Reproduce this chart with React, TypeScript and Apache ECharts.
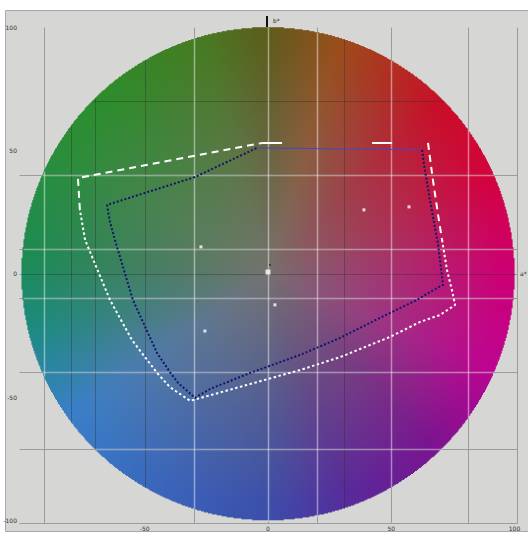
import React, { useEffect, useRef } from "react";
import * as echarts from "echarts";

// ---- axis extents (a*, b*) ----
const X_MIN = -101;
const X_MAX = 101;
const Y_MIN = -101;
const Y_MAX = 100;
const DISC_RADIUS = 100;

// ---- grid lines ----
const GRID_X_FULL = [-91, -30, 0, 20, 50, 81, 101];
const GRID_Y_FULL = [40, 10, 0, -10, -40, -71, -101];
const GRID_X_INNER_DARK = [-80, -70, -50, 31];
const GRID_Y_INNER_DARK = [70];
const GRID_X_BRIGHT = [-91, -30, 0, 20, 50, 81];
const GRID_Y_BRIGHT = [40, 10, -10, -40, -71];

// ---- tick labels ----
const X_TICK_VALUES = [-50, 0, 50, 100];
const X_TICK_LABELS = ["-50", "0", "50", "100"];
const Y_TICK_VALUES = [100, 50, 0, -50, -100];
const Y_TICK_LABELS = ["100", "50", "0", "-50", "-100"];
const X_AXIS_NAME = "a*";
const Y_AXIS_NAME = "b*";

// ---- gamut outline 1 (white) ----
const WHITE_DASHED_TOP: number[][] = [
  [-76.3, 25.9], [-77.1, 38.8], [-2.4, 53.0],
];
const WHITE_SPARSE_TOP: number[][] = [
  [-2.4, 53.0], [64.9, 53.0],
];
const WHITE_DASHED_RIGHT: number[][] = [
  [64.9, 53.0], [66.9, 38.0], [69.0, 23.8], [70.6, 13.7],
];
const WHITE_DOTTED: number[][] = [
  [70.6, 13.7], [72.6, 1.5], [74.6, -6.6], [75.9, -12.6],
  [69.8, -16.7], [61.7, -19.5], [49.5, -25.6], [37.3, -30.5], [29.2, -33.8],
  [13.0, -39.0], [-7.3, -44.7], [-21.5, -48.7], [-31.6, -51.5],
  [-39.8, -45.9], [-45.0, -40.2], [-55.2, -26.8], [-64.1, -10.6],
  [-74.2, 13.7], [-76.3, 25.9],
];

// ---- gamut outline 2 (navy) ----
const NAVY_TOP_SOLID: number[][] = [
  [-4.5, 51.0], [62.5, 50.2],
];
const NAVY_DOTTED: number[][] = [
  [62.5, 50.2], [63.3, 44.1], [65.7, 29.9], [69.0, 11.7], [71.0, -4.5],
  [65.7, -7.4], [60.4, -10.6], [45.4, -17.9], [29.2, -26.0], [13.0, -32.9],
  [-7.3, -40.2], [-23.5, -46.7], [-29.6, -50.3],
  [-36.5, -44.2], [-39.8, -39.8], [-45.0, -32.1], [-54.8, -10.6],
  [-62.1, 13.7], [-64.1, 21.0], [-65.3, 27.9], [-29.6, 39.2], [-4.5, 51.0],
];

// ---- measured points ----
const WHITE_POINTS: number[][] = [
  [-27.2, 10.9], [-25.6, -23.2], [2.8, -12.6], [38.9, 25.9], [57.2, 27.1],
];
const WHITE_POINT_CENTER: number[][] = [[0, 0.7]];
const DARK_POINTS: number[][] = [[0.8, 3.6]];

// ---- disc appearance (background image) ----
const RIM_ANGLES = [0, 17, 45, 65, 90, 112, 137, 160, 180, 205, 235, 257, 275, 300, 318, 345, 360];
const RIM_COLORS = [
  "#5e5c1c", "#9a4e1c", "#c81028", "#d2043c", "#cc0074", "#be0490", "#7a1490",
  "#582a9a", "#3c4eaa", "#3a64ba", "#3a80c8", "#1e8a80", "#1e8a52", "#2a8e3a",
  "#2e8c2c", "#487a22", "#5e5c1c",
];
const CENTER_COLOR = "#757270";

function hex(c: string): number[] {
  return [parseInt(c.slice(1, 3), 16), parseInt(c.slice(3, 5), 16), parseInt(c.slice(5, 7), 16)];
}

function makeDisc(): string {
  const N = 500;
  const cv = document.createElement("canvas");
  cv.width = N;
  cv.height = N;
  const ctx = cv.getContext("2d")!;
  const img = ctx.createImageData(N, N);
  const rim = RIM_COLORS.map(hex);
  const cen = hex(CENTER_COLOR);
  for (let j = 0; j < N; j++) {
    for (let i = 0; i < N; i++) {
      const dx = ((i + 0.5) / N) * 2 - 1;
      const dy = ((j + 0.5) / N) * 2 - 1;
      const r = Math.sqrt(dx * dx + dy * dy);
      const k = (j * N + i) * 4;
      if (r > 1) {
        img.data[k + 3] = 0;
        continue;
      }
      let ang = (Math.atan2(dx, -dy) * 180) / Math.PI;
      if (ang < 0) ang += 360;
      let s = 0;
      while (s < RIM_ANGLES.length - 2 && ang > RIM_ANGLES[s + 1]) s++;
      const t = (ang - RIM_ANGLES[s]) / (RIM_ANGLES[s + 1] - RIM_ANGLES[s]);
      const c0 = rim[s];
      const c1 = rim[s + 1];
      const f = Math.min(1, Math.pow(r, 0.9) * 1.05);
      for (let q = 0; q < 3; q++) {
        const rc = c0[q] + (c1[q] - c0[q]) * t;
        img.data[k + q] = Math.round(cen[q] + (rc - cen[q]) * f);
      }
      img.data[k + 3] = 255;
    }
  }
  ctx.putImageData(img, 0, 0);
  return cv.toDataURL("image/png");
}

export default function App() {
  const ref = useRef<HTMLDivElement>(null);

  useEffect(() => {
    document.body.style.margin = "0";
    if (!ref.current) return;
    const chart = echarts.init(ref.current, null, { renderer: "svg" });
    const discUrl = makeDisc();
    const R = DISC_RADIUS;

    const renderItem = (params: any, api: any) => {
      const children: any[] = [];
      const px = (v: number) => Math.round(v) + 0.5;
      const seg = (a: number[], b: number[], stroke: string, lw: number) => {
        const p = api.coord(a);
        const q = api.coord(b);
        return {
          type: "line",
          shape: { x1: px(p[0]), y1: px(p[1]), x2: px(q[0]), y2: px(q[1]) },
          style: { stroke, lineWidth: lw },
        };
      };
      // gray lines under the disc (visible outside)
      GRID_X_FULL.forEach((v) => children.push(seg([v, Y_MIN], [v, Y_MAX], "#9c9c9c", 1)));
      GRID_Y_FULL.forEach((v) => children.push(seg([X_MIN, v], [X_MAX, v], "#9c9c9c", 1)));
      // disc
      const tl = api.coord([-R, R]);
      const br = api.coord([R, -R]);
      children.push({
        type: "image",
        style: { image: discUrl, x: tl[0], y: tl[1], width: br[0] - tl[0], height: br[1] - tl[1] },
      });
      // dark lines over disc
      const dark = "rgba(40,40,40,0.35)";
      GRID_Y_FULL.concat(GRID_Y_INNER_DARK).forEach((v) => {
        if (Math.abs(v) < R) {
          const h = Math.sqrt(R * R - v * v);
          children.push(seg([-h, v], [h, v], dark, 1));
        }
      });
      GRID_X_INNER_DARK.forEach((v) => {
        const h = Math.sqrt(R * R - v * v);
        children.push(seg([v, -h], [v, h], dark, 1));
      });
      // bright lines over disc
      const bright = "rgba(255,255,255,0.45)";
      GRID_X_BRIGHT.forEach((v) => {
        const h = Math.sqrt(R * R - v * v);
        children.push(seg([v, -h], [v, h], bright, 1.5));
      });
      GRID_Y_BRIGHT.forEach((v) => {
        const h = Math.sqrt(R * R - v * v);
        children.push(seg([-h, v], [h, v], bright, 1.5));
      });
      // tick labels
      const font = "DejaVu Sans";
      X_TICK_VALUES.forEach((v, i) => {
        const p = api.coord([v, Y_MIN]);
        children.push({
          type: "text",
          style: { text: X_TICK_LABELS[i], x: p[0], y: p[1] + 5, align: "center", verticalAlign: "middle", fontSize: 6, fill: "#333", fontFamily: font },
        });
      });
      Y_TICK_VALUES.forEach((v, i) => {
        const p = api.coord([X_MIN, v]);
        children.push({
          type: "text",
          style: { text: Y_TICK_LABELS[i], x: p[0] - 2, y: p[1], align: "right", verticalAlign: "middle", fontSize: 6, fill: "#333", fontFamily: font },
        });
      });
      const an = api.coord([X_MAX, 0]);
      children.push({
        type: "text",
        style: { text: X_AXIS_NAME, x: an[0] + 3, y: an[1], align: "left", verticalAlign: "middle", fontSize: 6, fill: "#222", fontFamily: font },
      });
      const bn = api.coord([0, Y_MAX]);
      children.push({
        type: "line",
        shape: { x1: bn[0] - 1, y1: bn[1], x2: bn[0] - 1, y2: bn[1] - 11 },
        style: { stroke: "#111", lineWidth: 2 },
      });
      children.push({
        type: "text",
        style: { text: Y_AXIS_NAME, x: bn[0] + 5, y: bn[1] - 7, align: "left", verticalAlign: "middle", fontSize: 6, fill: "#222", fontFamily: font },
      });
      return { type: "group", children };
    };

    const lineSeries = (data: number[][], color: string, width: number, type: any) => ({
      type: "line",
      data,
      symbol: "none",
      showSymbol: false,
      silent: true,
      clip: false,
      z: 5,
      lineStyle: { color, width, type, cap: "butt" },
    });

    chart.setOption({
      animation: false,
      graphic: [
        {
          type: "rect",
          z: -10,
          shape: { x: 5.5, y: 10.5, width: 530, height: 521 },
          style: { fill: "#d6d6d4", stroke: "#a2a8b8", lineWidth: 1 },
        },
      ],
      grid: { left: 19, top: 27, width: 498, height: 496 },
      xAxis: {
        type: "value",
        min: X_MIN,
        max: X_MAX,
        axisLine: { show: false },
        axisTick: { show: false },
        axisLabel: { show: false },
        splitLine: { show: false },
      },
      yAxis: {
        type: "value",
        min: Y_MIN,
        max: Y_MAX,
        axisLine: { show: false },
        axisTick: { show: false },
        axisLabel: { show: false },
        splitLine: { show: false },
      },
      series: [
        {
          type: "custom",
          coordinateSystem: "cartesian2d",
          data: [[0, 0]],
          renderItem,
          clip: false,
          silent: true,
          z: 1,
        },
        lineSeries(WHITE_DASHED_TOP, "#ffffff", 2, [7, 5]),
        lineSeries(WHITE_SPARSE_TOP, "#ffffff", 2, [20, 90]),
        lineSeries(WHITE_DASHED_RIGHT, "#ffffff", 2, [7, 5]),
        lineSeries(WHITE_DOTTED, "#ffffff", 2, [2.5, 2.5]),
        lineSeries(NAVY_TOP_SOLID, "#4646c8", 1, "solid"),
        lineSeries(NAVY_DOTTED, "#14146a", 2, [2, 2]),
        {
          type: "scatter",
          data: WHITE_POINTS,
          symbol: "rect",
          symbolSize: 3,
          itemStyle: { color: "#ffffff" },
          silent: true,
          z: 6,
        },
        {
          type: "scatter",
          data: WHITE_POINT_CENTER,
          symbol: "rect",
          symbolSize: 5,
          itemStyle: { color: "#ffffff" },
          silent: true,
          z: 6,
        },
        {
          type: "scatter",
          data: DARK_POINTS,
          symbol: "rect",
          symbolSize: 2,
          itemStyle: { color: "#333333" },
          silent: true,
          z: 6,
        },
      ],
    });

    return () => chart.dispose();
  }, []);

  return <div ref={ref} style={{ width: 528, height: 535 }} />;
}
